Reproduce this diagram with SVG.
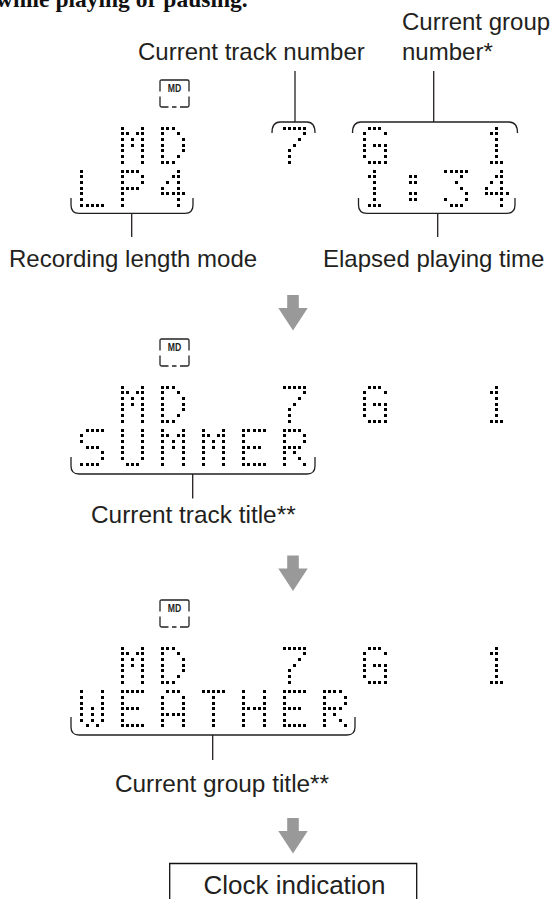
<svg xmlns="http://www.w3.org/2000/svg" width="553" height="899" viewBox="0 0 553 899">
<style>
text{font-family:"Liberation Sans",Arial,sans-serif;font-size:24px;fill:#231f20}
.m{text-anchor:middle}
.t{font-size:24.4px}
.h{font-family:"Liberation Serif","Times New Roman",serif;font-weight:bold;font-size:23.5px;fill:#111}
.md{font-size:10.5px;font-weight:bold;fill:#222}
.ln{fill:none;stroke:#231f20;stroke-width:1.3}
.ic{fill:none;stroke:#222;stroke-width:1.3}
.ar{fill:#999}
.gl rect{width:.583px;height:.53px;fill:#000;shape-rendering:crispEdges}
.bx{fill:none;stroke:#111;stroke-width:1.3}
</style>
<defs>
<path id="icon" class="ic" d="M.5 12V2Q.5 .5 2 .5H28Q29.5 .5 29.5 2V12M.5 17V26Q.5 27.5 2 27.5H9M12.5 27.5H17M20.5 27.5H28Q29.5 27.5 29.5 26V17"/>
<path id="arrow" class="ar" d="M-5.8 0H5.8V13H14.7L0 35.5L-14.7 13H-5.8Z"/>
<g id="M" class="gl" transform="scale(5.15 5.67)"><rect x="0" y="0"/><rect x="4" y="0"/><rect x="0" y="1"/><rect x="1" y="1"/><rect x="3" y="1"/><rect x="4" y="1"/><rect x="0" y="2"/><rect x="2" y="2"/><rect x="4" y="2"/><rect x="0" y="3"/><rect x="2" y="3"/><rect x="4" y="3"/><rect x="0" y="4"/><rect x="4" y="4"/><rect x="0" y="5"/><rect x="4" y="5"/><rect x="0" y="6"/><rect x="4" y="6"/></g>
<g id="D" class="gl" transform="scale(5.15 5.67)"><rect x="0" y="0"/><rect x="1" y="0"/><rect x="2" y="0"/><rect x="0" y="1"/><rect x="3" y="1"/><rect x="0" y="2"/><rect x="4" y="2"/><rect x="0" y="3"/><rect x="4" y="3"/><rect x="0" y="4"/><rect x="4" y="4"/><rect x="0" y="5"/><rect x="3" y="5"/><rect x="0" y="6"/><rect x="1" y="6"/><rect x="2" y="6"/></g>
<g id="L" class="gl" transform="scale(5.15 5.67)"><rect x="0" y="0"/><rect x="0" y="1"/><rect x="0" y="2"/><rect x="0" y="3"/><rect x="0" y="4"/><rect x="0" y="5"/><rect x="0" y="6"/><rect x="1" y="6"/><rect x="2" y="6"/><rect x="3" y="6"/><rect x="4" y="6"/></g>
<g id="P" class="gl" transform="scale(5.15 5.67)"><rect x="0" y="0"/><rect x="1" y="0"/><rect x="2" y="0"/><rect x="3" y="0"/><rect x="0" y="1"/><rect x="4" y="1"/><rect x="0" y="2"/><rect x="4" y="2"/><rect x="0" y="3"/><rect x="1" y="3"/><rect x="2" y="3"/><rect x="3" y="3"/><rect x="0" y="4"/><rect x="0" y="5"/><rect x="0" y="6"/></g>
<g id="n4" class="gl" transform="scale(5.15 5.67)"><rect x="3" y="0"/><rect x="2" y="1"/><rect x="3" y="1"/><rect x="1" y="2"/><rect x="3" y="2"/><rect x="0" y="3"/><rect x="3" y="3"/><rect x="0" y="4"/><rect x="1" y="4"/><rect x="2" y="4"/><rect x="3" y="4"/><rect x="4" y="4"/><rect x="3" y="5"/><rect x="3" y="6"/></g>
<g id="n7" class="gl" transform="scale(5.15 5.67)"><rect x="0" y="0"/><rect x="1" y="0"/><rect x="2" y="0"/><rect x="3" y="0"/><rect x="4" y="0"/><rect x="4" y="1"/><rect x="3" y="2"/><rect x="2" y="3"/><rect x="1" y="4"/><rect x="1" y="5"/><rect x="1" y="6"/></g>
<g id="G" class="gl" transform="scale(5.15 5.67)"><rect x="1" y="0"/><rect x="2" y="0"/><rect x="3" y="0"/><rect x="0" y="1"/><rect x="4" y="1"/><rect x="0" y="2"/><rect x="0" y="3"/><rect x="2" y="3"/><rect x="3" y="3"/><rect x="4" y="3"/><rect x="0" y="4"/><rect x="4" y="4"/><rect x="0" y="5"/><rect x="4" y="5"/><rect x="1" y="6"/><rect x="2" y="6"/><rect x="3" y="6"/><rect x="4" y="6"/></g>
<g id="n1" class="gl" transform="scale(5.15 5.67)"><rect x="2" y="0"/><rect x="1" y="1"/><rect x="2" y="1"/><rect x="2" y="2"/><rect x="2" y="3"/><rect x="2" y="4"/><rect x="2" y="5"/><rect x="1" y="6"/><rect x="2" y="6"/><rect x="3" y="6"/></g>
<g id="cl" class="gl" transform="scale(5.15 5.67)"><rect x="1" y="1"/><rect x="2" y="1"/><rect x="1" y="2"/><rect x="2" y="2"/><rect x="1" y="4"/><rect x="2" y="4"/><rect x="1" y="5"/><rect x="2" y="5"/></g>
<g id="n3" class="gl" transform="scale(5.15 5.67)"><rect x="0" y="0"/><rect x="1" y="0"/><rect x="2" y="0"/><rect x="3" y="0"/><rect x="4" y="0"/><rect x="3" y="1"/><rect x="2" y="2"/><rect x="3" y="3"/><rect x="4" y="4"/><rect x="0" y="5"/><rect x="4" y="5"/><rect x="1" y="6"/><rect x="2" y="6"/><rect x="3" y="6"/></g>
<g id="S" class="gl" transform="scale(5.15 5.67)"><rect x="1" y="0"/><rect x="2" y="0"/><rect x="3" y="0"/><rect x="4" y="0"/><rect x="0" y="1"/><rect x="0" y="2"/><rect x="1" y="3"/><rect x="2" y="3"/><rect x="3" y="3"/><rect x="4" y="4"/><rect x="4" y="5"/><rect x="0" y="6"/><rect x="1" y="6"/><rect x="2" y="6"/><rect x="3" y="6"/></g>
<g id="U" class="gl" transform="scale(5.15 5.67)"><rect x="0" y="0"/><rect x="4" y="0"/><rect x="0" y="1"/><rect x="4" y="1"/><rect x="0" y="2"/><rect x="4" y="2"/><rect x="0" y="3"/><rect x="4" y="3"/><rect x="0" y="4"/><rect x="4" y="4"/><rect x="0" y="5"/><rect x="4" y="5"/><rect x="1" y="6"/><rect x="2" y="6"/><rect x="3" y="6"/></g>
<g id="E" class="gl" transform="scale(5.15 5.67)"><rect x="0" y="0"/><rect x="1" y="0"/><rect x="2" y="0"/><rect x="3" y="0"/><rect x="4" y="0"/><rect x="0" y="1"/><rect x="0" y="2"/><rect x="0" y="3"/><rect x="1" y="3"/><rect x="2" y="3"/><rect x="3" y="3"/><rect x="0" y="4"/><rect x="0" y="5"/><rect x="0" y="6"/><rect x="1" y="6"/><rect x="2" y="6"/><rect x="3" y="6"/><rect x="4" y="6"/></g>
<g id="R" class="gl" transform="scale(5.15 5.67)"><rect x="0" y="0"/><rect x="1" y="0"/><rect x="2" y="0"/><rect x="3" y="0"/><rect x="0" y="1"/><rect x="4" y="1"/><rect x="0" y="2"/><rect x="4" y="2"/><rect x="0" y="3"/><rect x="1" y="3"/><rect x="2" y="3"/><rect x="3" y="3"/><rect x="0" y="4"/><rect x="2" y="4"/><rect x="0" y="5"/><rect x="3" y="5"/><rect x="0" y="6"/><rect x="4" y="6"/></g>
<g id="W" class="gl" transform="scale(5.15 5.67)"><rect x="0" y="0"/><rect x="4" y="0"/><rect x="0" y="1"/><rect x="4" y="1"/><rect x="0" y="2"/><rect x="4" y="2"/><rect x="0" y="3"/><rect x="2" y="3"/><rect x="4" y="3"/><rect x="0" y="4"/><rect x="2" y="4"/><rect x="4" y="4"/><rect x="0" y="5"/><rect x="2" y="5"/><rect x="4" y="5"/><rect x="1" y="6"/><rect x="3" y="6"/></g>
<g id="A" class="gl" transform="scale(5.15 5.67)"><rect x="1" y="0"/><rect x="2" y="0"/><rect x="3" y="0"/><rect x="0" y="1"/><rect x="4" y="1"/><rect x="0" y="2"/><rect x="4" y="2"/><rect x="0" y="3"/><rect x="4" y="3"/><rect x="0" y="4"/><rect x="1" y="4"/><rect x="2" y="4"/><rect x="3" y="4"/><rect x="4" y="4"/><rect x="0" y="5"/><rect x="4" y="5"/><rect x="0" y="6"/><rect x="4" y="6"/></g>
<g id="T" class="gl" transform="scale(5.15 5.67)"><rect x="0" y="0"/><rect x="1" y="0"/><rect x="2" y="0"/><rect x="3" y="0"/><rect x="4" y="0"/><rect x="2" y="1"/><rect x="2" y="2"/><rect x="2" y="3"/><rect x="2" y="4"/><rect x="2" y="5"/><rect x="2" y="6"/></g>
<g id="H" class="gl" transform="scale(5.15 5.67)"><rect x="0" y="0"/><rect x="4" y="0"/><rect x="0" y="1"/><rect x="4" y="1"/><rect x="0" y="2"/><rect x="4" y="2"/><rect x="0" y="3"/><rect x="1" y="3"/><rect x="2" y="3"/><rect x="3" y="3"/><rect x="4" y="3"/><rect x="0" y="4"/><rect x="4" y="4"/><rect x="0" y="5"/><rect x="4" y="5"/><rect x="0" y="6"/><rect x="4" y="6"/></g>
</defs>
<rect width="553" height="899" fill="#fff"/>
<text id="heading" class="h" x="-4" y="7">while playing or pausing.</text>

<g id="connectors">
<path class="ln" d="M295 71V122M272 133Q272 122 280 122H307Q315 122 315 133"/>
<path class="ln" d="M433.7 71V122M352.5 133Q352.5 122 361 122H509Q517.5 122 517.5 133"/>
<path class="ln" d="M71 198V205Q71 213.3 79 213.3H185Q193 213.3 193 205V198M131.7 213.3V237"/>
<path class="ln" d="M358.5 198V205Q358.5 213.3 367 213.3H507Q515 213.3 515 205V198M437.7 213.3V237"/>
<path class="ln" d="M71 457V466Q71 474 79 474H307Q315 474 315 466V457M192.7 474V498.5"/>
<path class="ln" d="M71 717V727Q71 735 79 735H347Q355 735 355 727V717M212.7 735V760"/>
<use href="#arrow" x="293" y="295"/>
<use href="#arrow" x="293" y="555.5"/>
<use href="#arrow" x="293" y="818"/>
</g>

<g id="screen-1">
<use href="#icon" x="159.5" y="79.5"/><text class="md m" x="174.5" y="92" textLength="13.5" lengthAdjust="spacingAndGlyphs">MD</text>
<g aria-label="MD 7 G 1">
<use href="#M" x="120.8" y="126.8"/><use href="#D" x="161.3" y="126.8"/><use href="#n7" x="282.7" y="126.8"/><use href="#G" x="363" y="126.8"/><use href="#n1" x="484.9" y="126.8"/>
</g>
<g aria-label="LP4 1:34">
<use href="#L" x="80.4" y="169.5"/><use href="#P" x="120.8" y="169.5"/><use href="#n4" x="161.3" y="169.5"/><use href="#n1" x="363" y="169.5"/><use href="#cl" x="404" y="169.5"/><use href="#n3" x="444.4" y="169.5"/><use href="#n4" x="484.9" y="169.5"/>
</g>
</g>

<g id="screen-2">
<use href="#icon" x="159.5" y="338.5"/><text class="md m" x="174.5" y="351" textLength="13.5" lengthAdjust="spacingAndGlyphs">MD</text>
<g aria-label="MD 7 G 1">
<use href="#M" x="120.8" y="385.8"/><use href="#D" x="161.3" y="385.8"/><use href="#n7" x="282.7" y="385.8"/><use href="#G" x="363" y="385.8"/><use href="#n1" x="484.9" y="385.8"/>
</g>
<g aria-label="SUMMER">
<use href="#S" x="80.4" y="428.5"/><use href="#U" x="120.8" y="428.5"/><use href="#M" x="161.3" y="428.5"/><use href="#M" x="201.7" y="428.5"/><use href="#E" x="242.2" y="428.5"/><use href="#R" x="282.7" y="428.5"/>
</g>
</g>

<g id="screen-3">
<use href="#icon" x="159.5" y="599.5"/><text class="md m" x="174.5" y="612" textLength="13.5" lengthAdjust="spacingAndGlyphs">MD</text>
<g aria-label="MD 7 G 1">
<use href="#M" x="120.8" y="646.8"/><use href="#D" x="161.3" y="646.8"/><use href="#n7" x="282.7" y="646.8"/><use href="#G" x="363" y="646.8"/><use href="#n1" x="484.9" y="646.8"/>
</g>
<g aria-label="WEATHER">
<use href="#W" x="80.4" y="690.2"/><use href="#E" x="120.8" y="690.2"/><use href="#A" x="161.3" y="690.2"/><use href="#T" x="201.7" y="690.2"/><use href="#H" x="242.2" y="690.2"/><use href="#E" x="282.7" y="690.2"/><use href="#R" x="323.1" y="690.2"/>
</g>
</g>

<g id="label-track-number"><text x="138" y="59.5">Current track number</text></g>
<g id="label-group-number"><text x="402" y="29.5">Current group</text><text x="402" y="59.5">number*</text></g>
<g id="label-recording-mode"><text x="9" y="267">Recording length mode</text></g>
<g id="label-elapsed"><text x="323" y="266.5">Elapsed playing time</text></g>
<g id="label-track-title"><text class="m t" x="193.3" y="523">Current track title**</text></g>
<g id="label-group-title"><text class="m t" x="222" y="791.5">Current group title**</text></g>
<g id="clock-indication">
<path class="bx" d="M169.7 900V863.5H416.7V900"/>
<text class="m" x="294.5" y="894" style="font-size:26px">Clock indication</text>
</g>
</svg>
